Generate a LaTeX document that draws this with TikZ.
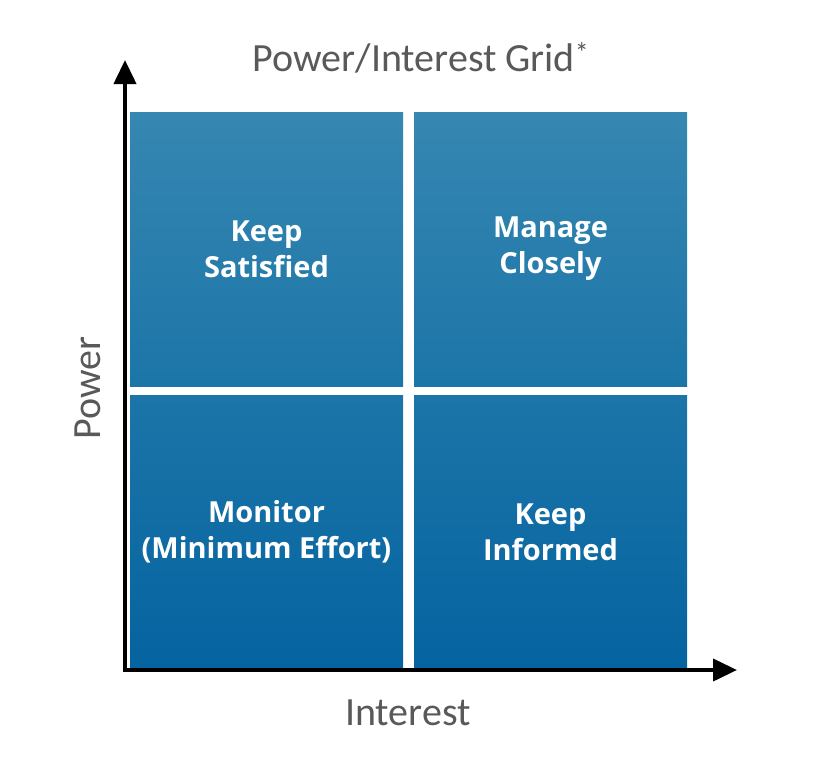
\documentclass[tikz,border=0pt]{standalone}
\usepackage{fontspec}
\setmainfont{Carlito}
\newfontfamily\quadfont{Open Sans}
\usetikzlibrary{arrows.meta}

\definecolor{gridtop}{RGB}{54,135,177}
\definecolor{gridmid}{RGB}{28,117,168}
\definecolor{gridbot}{RGB}{5,99,160}
\definecolor{labelgray}{RGB}{89,89,89}

\tikzset{
  quad/.style={minimum width=273pt,minimum height=274pt,inner sep=0pt,
    text=white,align=center,font=\quadfont\bfseries\fontsize{29}{36}\selectfont},
  upperquad/.style={quad,top color=gridtop,bottom color=gridmid},
  lowerquad/.style={quad,top color=gridmid,bottom color=gridbot},
  axis/.style={line width=4pt,-{Triangle[length=24pt,width=22pt]}},
  axislabel/.style={text=labelgray,inner sep=0.75pt,font=\fontsize{40}{46}\selectfont}
}

\begin{document}
\begin{tikzpicture}[x=1pt,y=1pt,yscale=-1,xscale=1]
\useasboundingbox (0,0) rectangle (814,758);

%Shape: Rectangle [id:keepsat]
\node [upperquad] (keepsat) at (266.5,249) {Keep\\Satisfied};
%Shape: Rectangle [id:manage]
\node [upperquad] (manage) at (550.5,249) {Manage\\Closely};
%Shape: Rectangle [id:monitor]
\node [lowerquad] (monitor) at (266.5,532) {Monitor\\(Minimum Effort)};
%Shape: Rectangle [id:informed]
\node [lowerquad] (informed) at (550.5,532) {Keep\\Informed};

%Axes
\coordinate (origin) at (125,670);
\coordinate (powertip) at (125,60);
\coordinate (interesttip) at (737,670);
\draw [axis] ([yshift=2pt]origin) -- (powertip);
\draw [axis] ([xshift=-2pt]origin) -- (interesttip);

% Text Node
\node [axislabel] (title) at (421,58) {Power/Interest Grid\textsuperscript{*}};
% Text Node
\node [axislabel] (interest) at (408,713) {Interest};
% Text Node
\node [axislabel,rotate=90] (power) at (88,388) {Power};

\end{tikzpicture}
\end{document}
